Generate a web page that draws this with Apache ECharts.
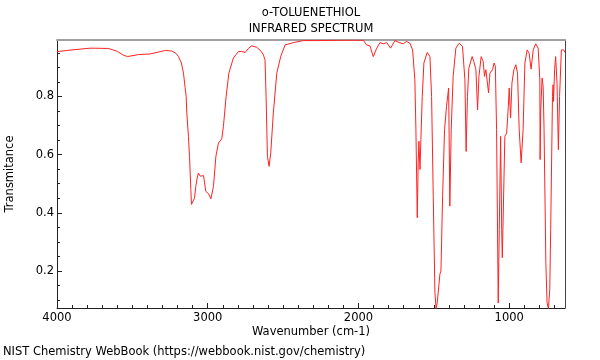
<!DOCTYPE html>
<html>
<head>
<meta charset="utf-8">
<script src="https://cdn.jsdelivr.net/npm/echarts@6/dist/echarts.min.js"></script>
<style>
html,body{margin:0;padding:0;background:#fff;}
#chart{width:600px;height:360px;}
</style>
</head>
<body>
<div id="chart"></div>
<script>
const titleLines = ['o-TOLUENETHIOL', 'INFRARED SPECTRUM'];
const xAxisName = 'Wavenumber (cm-1)';
const yAxisName = 'Transmitance';
const footer = 'NIST Chemistry WebBook (https://webbook.nist.gov/chemistry)';

const xMajorTicks = [1000, 2000, 3000, 4000];
const xMinorTicks = [700, 800, 900, 1100, 1200, 1300, 1400, 1500, 1600, 1700, 1800, 1900,
  2100, 2200, 2300, 2400, 2500, 2600, 2700, 2800, 2900, 3100, 3200, 3300, 3400, 3500,
  3600, 3700, 3800, 3900];
const yMajorTicks = [0.2, 0.4, 0.6, 0.8];
const yMinorTicks = [0.1, 0.15, 0.25, 0.3, 0.35, 0.45, 0.5, 0.55, 0.65, 0.7, 0.75, 0.85, 0.9, 0.95];

const wavenumbers = [4000, 3900, 3779, 3658, 3600, 3560, 3532, 3459, 3382, 3282, 3238, 3210, 3194, 3175,
  3161, 3150, 3143, 3139, 3128, 3121, 3112, 3108, 3104, 3100, 3095, 3088, 3079, 3070, 3062, 3050,
  3039, 3028, 3013, 2995, 2979, 2971, 2962, 2946, 2929, 2907, 2896, 2878, 2860, 2830, 2797, 2775,
  2752, 2730, 2708, 2675, 2645, 2631, 2620, 2613, 2604, 2593, 2582, 2565, 2542, 2516, 2487, 2432,
  2366, 2277, 2123, 1968, 1946, 1924, 1902, 1879, 1857, 1836, 1813, 1787, 1758, 1730, 1703, 1681,
  1659, 1641, 1626, 1619, 1610, 1604, 1599, 1592, 1586, 1577, 1566, 1544, 1526, 1515, 1504, 1493,
  1485, 1478, 1471, 1460, 1453, 1442, 1429, 1416, 1402, 1394, 1385, 1372, 1354, 1332, 1310, 1294,
  1286, 1277, 1268, 1257, 1246, 1235, 1221, 1210, 1201, 1186, 1173, 1164, 1155, 1146, 1137, 1128,
  1111, 1100, 1092, 1084, 1073, 1066, 1057, 1050, 1046, 1040, 1029, 1017, 1006, 1000, 991, 982,
  969, 956, 945, 934, 921, 908, 896, 881, 868, 855, 841, 824, 808, 797, 795, 791, 782, 775, 769,
  757, 749, 740, 731, 725, 713, 709, 706, 699, 692, 683, 674, 666, 654, 639, 630];
const transmittance = [0.954, 0.960, 0.966, 0.965, 0.955, 0.942, 0.937, 0.944, 0.946, 0.958, 0.956, 0.948, 0.937, 0.915,
  0.880, 0.83, 0.800, 0.743, 0.663, 0.594, 0.480, 0.429, 0.423, 0.430, 0.425, 0.45, 0.491, 0.52, 0.537, 0.526,
  0.530, 0.528, 0.474, 0.466, 0.448, 0.448, 0.491, 0.594, 0.640, 0.654, 0.697, 0.800, 0.880, 0.932, 0.954, 0.955,
  0.951, 0.965, 0.974, 0.969, 0.955, 0.943, 0.926, 0.800, 0.594, 0.560, 0.606, 0.743, 0.880, 0.937, 0.977, 0.985,
  0.992, 0.992, 0.993, 0.993, 0.977, 0.974, 0.937, 0.966, 0.985, 0.981, 0.985, 0.966, 0.992, 0.985, 0.981, 0.989,
  0.983, 0.960, 0.857, 0.686, 0.383, 0.572, 0.646, 0.549, 0.652, 0.800, 0.915, 0.951, 0.937, 0.800, 0.457, 0.126,
  0.07, 0.09, 0.126, 0.189, 0.200, 0.457, 0.686, 0.766, 0.829, 0.423, 0.686, 0.869, 0.966, 0.983, 0.972, 0.857,
  0.611, 0.800, 0.897, 0.903, 0.937, 0.920, 0.892, 0.754, 0.869, 0.937, 0.920, 0.869, 0.892, 0.886, 0.812, 0.880,
  0.892, 0.915, 0.903, 0.686, 0.09, 0.343, 0.663, 0.343, 0.246, 0.389, 0.663, 0.674, 0.766, 0.829, 0.726, 0.846,
  0.892, 0.909, 0.880, 0.686, 0.572, 0.686, 0.915, 0.960, 0.949, 0.894, 0.960, 0.981, 0.966, 0.857, 0.583, 0.75, 0.863, 0.834, 0.686,
  0.229, 0.092, 0.07, 0.137, 0.343, 0.800, 0.840, 0.783, 0.892, 0.937, 0.846, 0.617, 0.800, 0.960, 0.960, 0.951];

const X_MIN = 630, X_MAX = 4000, Y_MIN = 0.073, Y_MAX = 0.994;
const FONT = 'DejaVu Sans';
const TXT = '11.5px "DejaVu Sans"';

const chart = echarts.init(document.getElementById('chart'), null, {renderer: 'canvas'});
const seriesData = wavenumbers.map((w, i) => [w, transmittance[i]]);

const gridPos = {left: 57, top: 40, right: 35, bottom: 52};
const baseX = {type: 'value', inverse: true, min: X_MIN, max: X_MAX, splitLine: {show: false}, gridIndex: 0};
const baseY = {type: 'value', min: Y_MIN, max: Y_MAX, splitLine: {show: false}, gridIndex: 0};

chart.setOption({
  animation: false,
  backgroundColor: '#ffffff',
  grid: [Object.assign({containLabel: false}, gridPos)],
  xAxis: [
    Object.assign({}, baseX, {
      position: 'bottom',
      axisLine: {show: true, lineStyle: {color: '#222', width: 1}},
      axisTick: {show: true, inside: true, length: 5, lineStyle: {color: '#222'}, customValues: xMajorTicks},
      axisLabel: {show: true, customValues: xMajorTicks, formatter: v => String(v), fontFamily: FONT, fontSize: 11.5, color: '#000', margin: 4}
    }),
    Object.assign({}, baseX, {
      position: 'bottom',
      axisLine: {show: false},
      axisTick: {show: true, inside: true, length: 3, lineStyle: {color: '#222'}, customValues: xMinorTicks},
      axisLabel: {show: false}
    }),
    Object.assign({}, baseX, {
      position: 'top',
      axisLine: {show: true, lineStyle: {color: '#a0a0a0', width: 2}},
      axisTick: {show: false},
      axisLabel: {show: false}
    })
  ],
  yAxis: [
    Object.assign({}, baseY, {
      position: 'left',
      axisLine: {show: true, lineStyle: {color: '#222', width: 1}},
      axisTick: {show: true, inside: true, length: 5, lineStyle: {color: '#222'}, customValues: yMajorTicks},
      axisLabel: {show: true, customValues: yMajorTicks, formatter: v => v.toFixed(1), fontFamily: FONT, fontSize: 11.5, color: '#000', margin: 3}
    }),
    Object.assign({}, baseY, {
      position: 'left',
      axisLine: {show: false},
      axisTick: {show: true, inside: true, length: 3, lineStyle: {color: '#222'}, customValues: yMinorTicks},
      axisLabel: {show: false}
    }),
    Object.assign({}, baseY, {
      position: 'right',
      axisLine: {show: true, lineStyle: {color: '#444', width: 1}},
      axisTick: {show: false},
      axisLabel: {show: false}
    })
  ],
  series: [{
    type: 'line',
    xAxisIndex: 0,
    yAxisIndex: 0,
    data: seriesData,
    symbol: 'none',
    smooth: false,
    clip: true,
    lineStyle: {color: '#ff2222', width: 1}
  }],
  graphic: [
    {type: 'text', x: 311, y: 13, style: {text: titleLines[0], font: TXT, fill: '#000', align: 'center', verticalAlign: 'middle'}},
    {type: 'text', x: 311, y: 29, style: {text: titleLines[1], font: TXT, fill: '#000', align: 'center', verticalAlign: 'middle'}},
    {type: 'text', x: 311, y: 332, style: {text: xAxisName, font: TXT, fill: '#000', align: 'center', verticalAlign: 'middle'}},
    {type: 'text', x: 10, y: 174, rotation: Math.PI / 2, style: {text: yAxisName, font: TXT, fill: '#000', align: 'center', verticalAlign: 'middle'}},
    {type: 'text', x: 3, y: 352, style: {text: footer, font: TXT, fill: '#000', align: 'left', verticalAlign: 'middle'}}
  ]
});
</script>
</body>
</html>
